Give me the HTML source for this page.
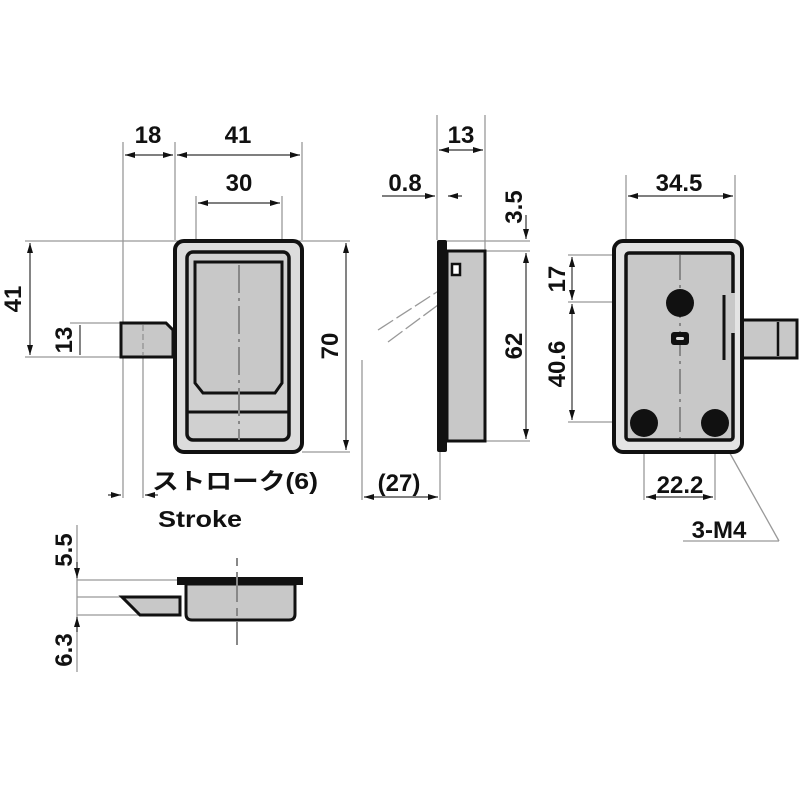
<!DOCTYPE html>
<html><head><meta charset="utf-8"><style>
html,body{margin:0;padding:0;background:#fff}
svg{display:block}
text{font-family:"Liberation Sans","Noto Sans CJK JP",sans-serif;font-weight:bold;fill:#111}
</style></head><body>
<svg width="800" height="800" viewBox="0 0 800 800" xmlns="http://www.w3.org/2000/svg">
<defs>
<marker id="a" viewBox="0 0 10 6" refX="10" refY="3" markerWidth="9" markerHeight="5" orient="auto-start-reverse"><path d="M0,0 L10,3 L0,6z" fill="#111"/></marker>
</defs>
<g stroke="#999" stroke-width="1.3" fill="none">
<line x1="123" y1="142" x2="123" y2="498"/>
<line x1="175" y1="142" x2="175" y2="240"/>
<line x1="302" y1="142" x2="302" y2="240"/>
<line x1="196" y1="196" x2="196" y2="262"/>
<line x1="282" y1="196" x2="282" y2="262"/>
<line x1="25" y1="241" x2="350" y2="241"/>
<line x1="302" y1="452" x2="350" y2="452"/>
<line x1="70" y1="323" x2="120" y2="323"/>
<line x1="25" y1="357" x2="120" y2="357"/>
<line x1="143" y1="357" x2="143" y2="498"/>
<line x1="437" y1="115" x2="437" y2="240"/>
<line x1="485" y1="115" x2="485" y2="250"/>
<line x1="446" y1="241" x2="530" y2="241"/>
<line x1="485" y1="251" x2="530" y2="251"/>
<line x1="485" y1="441" x2="530" y2="441"/>
<line x1="362" y1="360" x2="362" y2="500"/>
<line x1="440" y1="452" x2="440" y2="500"/>
<line x1="378" y1="330" x2="440" y2="290" stroke-dasharray="18,4"/>
<line x1="388" y1="342" x2="442" y2="302" stroke-dasharray="18,4"/>
<line x1="626" y1="175" x2="626" y2="250"/>
<line x1="735" y1="175" x2="735" y2="250"/>
<line x1="568" y1="255" x2="625" y2="255"/>
<line x1="568" y1="302" x2="670" y2="302"/>
<line x1="568" y1="422" x2="630" y2="422"/>
<line x1="644" y1="436" x2="644" y2="500"/>
<line x1="715" y1="436" x2="715" y2="500"/>
<line x1="727" y1="448" x2="779" y2="541"/>
<line x1="683" y1="541" x2="779" y2="541"/>
<line x1="77" y1="525" x2="77" y2="672"/>
<line x1="77" y1="580" x2="178" y2="580"/>
<line x1="77" y1="597" x2="125" y2="597"/>
<line x1="77" y1="615" x2="140" y2="615"/>
</g>
<g stroke="#333" stroke-width="1.2" fill="none">
<line x1="125" y1="155" x2="173" y2="155" marker-start="url(#a)" marker-end="url(#a)"/>
<line x1="177" y1="155" x2="300" y2="155" marker-start="url(#a)" marker-end="url(#a)"/>
<line x1="198" y1="203" x2="280" y2="203" marker-start="url(#a)" marker-end="url(#a)"/>
<line x1="30" y1="243" x2="30" y2="355" marker-start="url(#a)" marker-end="url(#a)"/>
<line x1="80" y1="325" x2="80" y2="355"/>
<line x1="346" y1="243" x2="346" y2="450" marker-start="url(#a)" marker-end="url(#a)"/>
<line x1="108" y1="495" x2="121" y2="495" marker-end="url(#a)"/>
<line x1="158" y1="495" x2="145" y2="495" marker-end="url(#a)"/>
<line x1="439" y1="150" x2="483" y2="150" marker-start="url(#a)" marker-end="url(#a)"/>
<line x1="382" y1="196" x2="435" y2="196" marker-end="url(#a)"/>
<line x1="462" y1="196" x2="448" y2="196" marker-end="url(#a)"/>
<line x1="526" y1="215" x2="526" y2="239" marker-end="url(#a)"/>
<line x1="526" y1="253" x2="526" y2="439" marker-start="url(#a)" marker-end="url(#a)"/>
<line x1="364" y1="497" x2="438" y2="497" marker-start="url(#a)" marker-end="url(#a)"/>
<line x1="628" y1="196" x2="733" y2="196" marker-start="url(#a)" marker-end="url(#a)"/>
<line x1="572" y1="257" x2="572" y2="300" marker-start="url(#a)" marker-end="url(#a)"/>
<line x1="572" y1="304" x2="572" y2="420" marker-start="url(#a)" marker-end="url(#a)"/>
<line x1="646" y1="497" x2="713" y2="497" marker-start="url(#a)" marker-end="url(#a)"/>
<line x1="77" y1="562" x2="77" y2="578" marker-end="url(#a)"/>
<line x1="77" y1="632" x2="77" y2="617" marker-end="url(#a)"/>
</g>
<!-- FRONT VIEW -->
<path d="M121,323 H166 L173,330 V357 H121 Z" fill="#c8c8c8" stroke="#111" stroke-width="3"/>
<rect x="175" y="241" width="127" height="211" rx="9" fill="#dcdcdc" stroke="#111" stroke-width="4"/>
<rect x="187" y="252" width="102" height="188" rx="6" fill="#d0d0d0" stroke="#111" stroke-width="3.5"/>
<path d="M195,262 H282 V383 L275,393 H203 L195,383 Z" fill="#c8c8c8" stroke="#111" stroke-width="3"/>
<line x1="188" y1="412" x2="288" y2="412" stroke="#111" stroke-width="3"/>
<line x1="239" y1="265" x2="239" y2="440" stroke="#888" stroke-width="2" stroke-dasharray="28,5,3,5"/>
<line x1="143" y1="325" x2="143" y2="355" stroke="#999" stroke-width="1.5" stroke-dasharray="6,3"/>
<!-- SIDE VIEW -->
<rect x="447" y="251" width="38" height="190" fill="#c8c8c8" stroke="#111" stroke-width="3"/>
<rect x="437" y="240" width="10" height="212" rx="2" fill="#111"/>
<rect x="452" y="264" width="8" height="11" fill="#fff" stroke="#111" stroke-width="2.5"/>
<!-- REAR VIEW -->
<path d="M726,320 H797 V358 H726 Z" fill="#c8c8c8" stroke="#111" stroke-width="3"/>
<line x1="778" y1="322" x2="778" y2="356" stroke="#111" stroke-width="2.5"/>
<rect x="614" y="241" width="128" height="211" rx="9" fill="#e4e4e4" stroke="#111" stroke-width="4"/>
<rect x="626" y="253" width="107" height="187" rx="3" fill="#c8c8c8" stroke="#111" stroke-width="3.5"/>
<rect x="723" y="293" width="12" height="40" fill="#c8c8c8" stroke="none"/>
<path d="M724,295 V360" stroke="#111" stroke-width="3"/>
<line x1="680" y1="255" x2="680" y2="438" stroke="#888" stroke-width="2" stroke-dasharray="25,5,3,5"/>
<circle cx="680" cy="303" r="14" fill="#111"/>
<circle cx="644" cy="423" r="14" fill="#111"/>
<circle cx="715" cy="423" r="14" fill="#111"/>
<rect x="671" y="332" width="18" height="13" rx="3" fill="#111"/>
<rect x="676" y="337" width="8" height="3" rx="1.5" fill="#ddd"/>
<!-- BOTTOM VIEW -->
<path d="M122,597 H180 V615 H140 Z" fill="#c8c8c8" stroke="#111" stroke-width="3"/>
<path d="M186,584 H295 V614 Q295,620 289,620 H192 Q186,620 186,614 Z" fill="#c8c8c8" stroke="#111" stroke-width="3"/>
<path d="M177,577 H303 V585 H177 Z" fill="#111"/>
<line x1="237" y1="558" x2="237" y2="645" stroke="#888" stroke-width="2" stroke-dasharray="8,6,30,6"/>
<!-- TEXT -->
<text x="148" y="143" font-size="24" text-anchor="middle">18</text>
<text x="238" y="143" font-size="24" text-anchor="middle">41</text>
<text x="239" y="191" font-size="24" text-anchor="middle">30</text>
<text transform="translate(21,299) rotate(-90)" font-size="24" text-anchor="middle">41</text>
<text transform="translate(72,340) rotate(-90)" font-size="24" text-anchor="middle">13</text>
<text transform="translate(338,346) rotate(-90)" font-size="24" text-anchor="middle">70</text>
<text x="152" y="489" font-size="23" textLength="166" lengthAdjust="spacingAndGlyphs">ストローク(6)</text>
<text x="158" y="527" font-size="23" textLength="84" lengthAdjust="spacingAndGlyphs">Stroke</text>
<text x="461" y="143" font-size="24" text-anchor="middle">13</text>
<text x="405" y="191" font-size="24" text-anchor="middle">0.8</text>
<text transform="translate(522,207) rotate(-90)" font-size="24" text-anchor="middle">3.5</text>
<text transform="translate(522,346) rotate(-90)" font-size="24" text-anchor="middle">62</text>
<text x="399" y="491" font-size="24" text-anchor="middle">(27)</text>
<text x="679" y="191" font-size="24" text-anchor="middle">34.5</text>
<text transform="translate(565,279) rotate(-90)" font-size="24" text-anchor="middle">17</text>
<text transform="translate(565,364) rotate(-90)" font-size="24" text-anchor="middle">40.6</text>
<text x="680" y="493" font-size="24" text-anchor="middle">22.2</text>
<text x="719" y="538" font-size="24" text-anchor="middle">3-M4</text>
<text transform="translate(72,550) rotate(-90)" font-size="24" text-anchor="middle">5.5</text>
<text transform="translate(72,650) rotate(-90)" font-size="24" text-anchor="middle">6.3</text>
</svg>
</body></html>
